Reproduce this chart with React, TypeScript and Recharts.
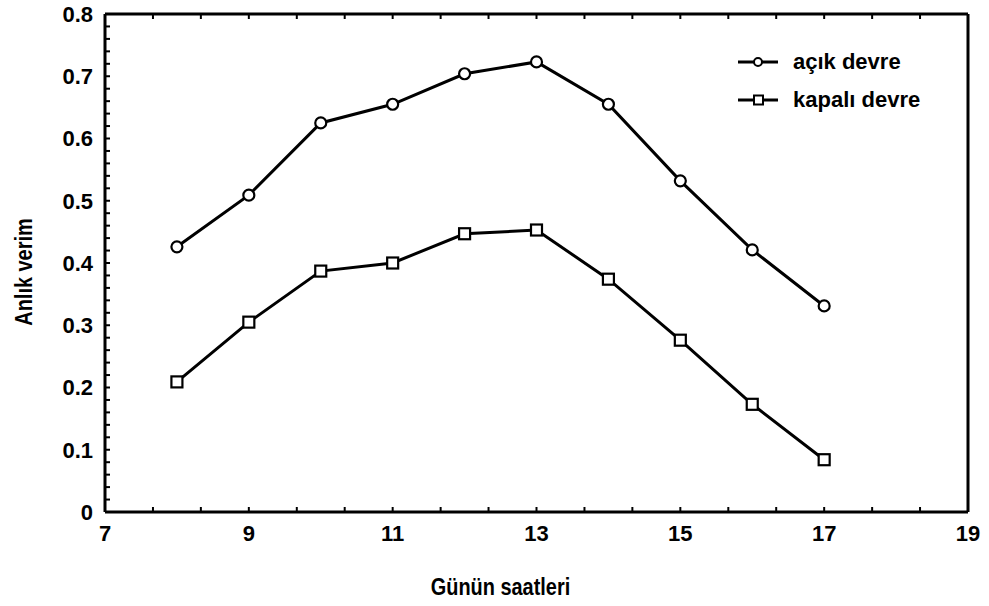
import React from 'react';
import { LineChart, Line, XAxis, YAxis, Legend } from 'recharts';

const hours = [8, 9, 10, 11, 12, 13, 14, 15, 16, 17];
const acikDevre = [0.426, 0.509, 0.625, 0.655, 0.704, 0.723, 0.655, 0.532, 0.421, 0.331];
const kapaliDevre = [0.209, 0.305, 0.387, 0.4, 0.447, 0.453, 0.374, 0.276, 0.173, 0.084];
const xTicks = [7, 9, 11, 13, 15, 17, 19];
const yTicks = [0, 0.1, 0.2, 0.3, 0.4, 0.5, 0.6, 0.7, 0.8];
const xMinorTicks = [7, 7.667, 8.333, 9, 9.667, 10.333, 11, 11.667, 12.333, 13, 13.667, 14.333, 15, 15.667, 16.333, 17, 17.667, 18.333, 19];
const yMinorTicks = [0, 0.02, 0.04, 0.06, 0.08, 0.1, 0.12, 0.14, 0.16, 0.18, 0.2, 0.22, 0.24, 0.26, 0.28, 0.3, 0.32, 0.34, 0.36, 0.38, 0.4, 0.42, 0.44, 0.46, 0.48, 0.5, 0.52, 0.54, 0.56, 0.58, 0.6, 0.62, 0.64, 0.66, 0.68, 0.7, 0.72, 0.74, 0.76, 0.78, 0.8];
const seriesNames = ['açık devre', 'kapalı devre'];
const xTitle = 'Günün saatleri';
const yTitle = 'Anlık verim';

const data = hours.map((h, i) => ({ h, a: acikDevre[i], k: kapaliDevre[i] }));

const FONT = '"Liberation Sans", Arial, sans-serif';

const isMajor = (v: number, list: number[]) => list.some((t) => Math.abs(t - v) < 1e-6);

const SquareDot = (props: any) => {
  const { cx, cy, index } = props;
  if (cx == null || cy == null) return <g key={index} />;
  return <rect key={index} x={cx - 5.5} y={cy - 5.5} width={11} height={11} fill="#fff" stroke="#000" strokeWidth={2.2} />;
};

const CircleDot = (props: any) => {
  const { cx, cy, index } = props;
  if (cx == null || cy == null) return <g key={index} />;
  return <circle key={index} cx={cx} cy={cy} r={5.5} fill="#fff" stroke="#000" strokeWidth={2.2} />;
};

const BottomTick = (props: any) => {
  const { x, y, payload } = props;
  const v = payload.value;
  return (
    <g>
      <line x1={x} y1={y} x2={x} y2={y - 5} stroke="#000" strokeWidth={2} />
      {isMajor(v, xTicks) && (
        <text x={x} y={y + 13} dy="0.71em" textAnchor="middle" fontFamily={FONT} fontWeight="bold" fontSize={22} fill="#000">
          {v}
        </text>
      )}
    </g>
  );
};

const LeftTick = (props: any) => {
  const { x, y, payload } = props;
  const v = payload.value;
  return (
    <g>
      <line x1={x} y1={y} x2={x + 5} y2={y} stroke="#000" strokeWidth={2} />
      {isMajor(v, yTicks) && (
        <text x={x - 12} y={y} dy="0.355em" textAnchor="end" fontFamily={FONT} fontWeight="bold" fontSize={22} fill="#000">
          {Number(v.toFixed(1)) === 0 ? '0' : v.toFixed(1)}
        </text>
      )}
    </g>
  );
};

const TopTick = (props: any) => {
  const { x, y } = props;
  return <line x1={x} y1={y} x2={x} y2={y + 5} stroke="#000" strokeWidth={2} />;
};

const RightTick = (props: any) => {
  const { x, y } = props;
  return <line x1={x} y1={y} x2={x - 5} y2={y} stroke="#000" strokeWidth={2} />;
};

const XTitle = (props: any) => {
  const vb = props.viewBox || { x: 105, y: 512, width: 863, height: 94 };
  const cx = vb.x + vb.width / 2 - 36;
  const by = vb.y + 83;
  return (
    <text transform={`translate(${cx},${by}) scale(0.83,1)`} textAnchor="middle" fontFamily={FONT} fontWeight="bold" fontSize={24} fill="#000">
      {xTitle}
    </text>
  );
};

const YTitle = (props: any) => {
  const vb = props.viewBox || { x: 0, y: 14, width: 105, height: 498 };
  const cy = vb.y + vb.height / 2 + 9;
  return (
    <text transform={`translate(32,${cy}) rotate(-90) scale(0.83,1)`} textAnchor="middle" fontFamily={FONT} fontWeight="bold" fontSize={24} fill="#000">
      {yTitle}
    </text>
  );
};

const LegendContent = () => (
  <div style={{ position: 'absolute', left: 736, top: 43, width: 240, fontFamily: FONT, fontSize: 22, fontWeight: 'bold', color: '#000', whiteSpace: 'nowrap' }}>
    {seriesNames.map((n, i) => (
      <div key={n} style={{ display: 'flex', alignItems: 'center', height: 38 }}>
        <svg width={46} height={20} style={{ display: 'block' }}>
          <line x1={2} y1={10} x2={42} y2={10} stroke="#000" strokeWidth={3} />
          {i === 0 ? (
            <circle cx={22} cy={10} r={4} fill="#fff" stroke="#000" strokeWidth={2} />
          ) : (
            <rect x={18} y={5.5} width={9} height={9} fill="#fff" stroke="#000" strokeWidth={2} />
          )}
        </svg>
        <span style={{ marginLeft: 11 }}>{n}</span>
      </div>
    ))}
  </div>
);

export default function App() {
  return (
    <div style={{ position: 'absolute', left: 0, top: 0, width: 989, height: 606, background: '#fff' }}>
      <LineChart width={989} height={606} data={data} margin={{ top: 13, right: 20, bottom: 0, left: 0 }}>
        <XAxis
          xAxisId="main"
          dataKey="h"
          type="number"
          domain={[7, 19]}
          ticks={xMinorTicks}
          interval={0}
          allowDataOverflow
          height={94}
          axisLine={{ stroke: '#000', strokeWidth: 3 }}
          tickLine={false}
          tickSize={0}
          tickMargin={0}
          tick={<BottomTick />}
          label={<XTitle />}
        />
        <XAxis
          xAxisId="top"
          dataKey="h"
          type="number"
          domain={[7, 19]}
          ticks={xMinorTicks}
          interval={0}
          orientation="top"
          height={1}
          axisLine={{ stroke: '#000', strokeWidth: 3 }}
          tickLine={false}
          tickSize={0}
          tickMargin={0}
          tick={<TopTick />}
        />
        <YAxis
          yAxisId="main"
          type="number"
          domain={[0, 0.8]}
          ticks={yMinorTicks}
          interval={0}
          width={105}
          axisLine={{ stroke: '#000', strokeWidth: 3 }}
          tickLine={false}
          tickSize={0}
          tickMargin={0}
          tick={<LeftTick />}
          label={<YTitle />}
        />
        <YAxis
          yAxisId="right"
          type="number"
          domain={[0, 0.8]}
          ticks={yMinorTicks}
          interval={0}
          orientation="right"
          width={1}
          axisLine={{ stroke: '#000', strokeWidth: 3 }}
          tickLine={false}
          tickSize={0}
          tickMargin={0}
          tick={<RightTick />}
        />
        <Legend content={<LegendContent />} wrapperStyle={{ position: 'absolute', left: 0, top: 0, width: 989, height: 0 }} />
        <Line
          xAxisId="main"
          yAxisId="main"
          type="linear"
          dataKey="a"
          name={seriesNames[0]}
          stroke="#000"
          strokeWidth={3}
          dot={CircleDot}
          isAnimationActive={false}
        />
        <Line
          xAxisId="main"
          yAxisId="main"
          type="linear"
          dataKey="k"
          name={seriesNames[1]}
          stroke="#000"
          strokeWidth={3}
          dot={SquareDot}
          isAnimationActive={false}
        />
      </LineChart>
    </div>
  );
}
